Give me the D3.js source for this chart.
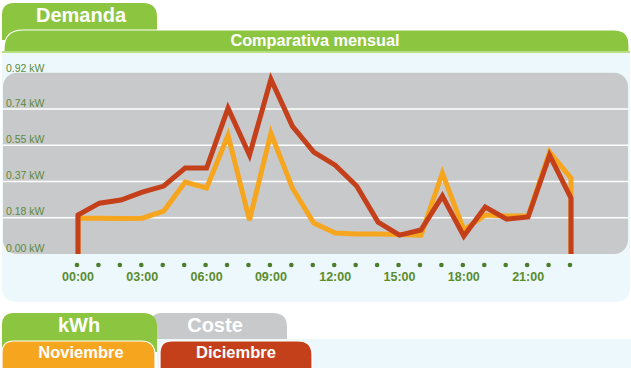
<!DOCTYPE html>
<html>
<head>
<meta charset="utf-8">
<title>Demanda - Comparativa mensual</title>
<style>
  body { margin: 0; background: #fff; }
  svg { display: block; font-family: "Liberation Sans", Arial, sans-serif; }
  .ylab { font-size: 10.5px; fill: #5b8a3a; }
  .xlab { font-size: 12.5px; font-weight: bold; fill: #5a8c2e; }
  .tabtxt { font-weight: bold; fill: #fff; text-anchor: middle; }
</style>
</head>
<body>
<svg width="631" height="368"></svg>
<script src="https://d3js.org/d3.v7.min.js"></script>
<script>
// datos: consumo medio por hora (kW)
const hours = d3.range(0, 24);
const hourLabels = ["00:00", "03:00", "06:00", "09:00", "12:00", "15:00", "18:00", "21:00"];
const yTicks = [0, 0.184, 0.368, 0.552, 0.736, 0.92];

const noviembre = [0.182, 0.182, 0.180, 0.182, 0.218, 0.365, 0.335, 0.603, 0.172, 0.613, 0.335, 0.157,
                   0.106, 0.101, 0.101, 0.099, 0.096, 0.411, 0.122, 0.198, 0.193, 0.193, 0.517, 0.385];
const diciembre = [0.198, 0.258, 0.274, 0.314, 0.345, 0.436, 0.436, 0.740, 0.502, 0.887, 0.649, 0.517,
                   0.451, 0.345, 0.162, 0.096, 0.122, 0.294, 0.091, 0.238, 0.177, 0.188, 0.502, 0.284];

const green = "#8cc540", gray = "#c8c9cb", panel = "#edf8fc";
const orange = "#f6a61e", red = "#c4401b";

const svg = d3.select("svg");

// pestaña con esquinas superiores redondeadas
function tab(x0, y0, x1, y1, rl, rr) {
  return `M${x0},${y1} L${x0},${y0 + rl} Q${x0},${y0} ${x0 + rl},${y0} L${x1 - rr},${y0} Q${x1},${y0} ${x1},${y0 + rr} L${x1},${y1} Z`;
}

// cabecera
svg.append("path").attr("d", tab(2, 3, 157, 40, 12, 14)).attr("fill", green);
svg.append("path").attr("d", tab(4, 30, 629, 52, 19, 15)).attr("fill", green)
  .attr("stroke", "#fff").attr("stroke-width", 1.2);
svg.append("rect").attr("x", 2).attr("y", 51).attr("width", 628).attr("height", 2).attr("fill", "#b9df86");
svg.append("text").attr("class", "tabtxt").attr("x", 81).attr("y", 22).attr("font-size", 20).text("Demanda");
svg.append("text").attr("class", "tabtxt").attr("x", 315).attr("y", 46).attr("font-size", 16.3).text("Comparativa mensual");

// panel
svg.append("path")
  .attr("d", "M2,53 L630,53 L630,287 Q630,302 615,302 L17,302 Q2,302 2,287 Z")
  .attr("fill", panel);

// escalas
const x = d3.scaleLinear().domain([0, 23]).range([78, 571]);
const y = d3.scaleLinear().domain([0, 0.92]).range([254, 72.75]);

// área gris
svg.append("rect").attr("x", 3).attr("y", y(0.92)).attr("width", 625)
  .attr("height", y(0) - y(0.92)).attr("rx", 14).attr("fill", gray);

svg.append("g").selectAll("line")
  .data(yTicks.slice(1, -1))
  .join("line")
  .attr("x1", 3).attr("x2", 628)
  .attr("y1", d => y(d)).attr("y2", d => y(d))
  .attr("stroke", "#fff").attr("stroke-width", 1.3);

svg.append("g").selectAll("text")
  .data(yTicks)
  .join("text")
  .attr("class", "ylab")
  .attr("x", 6)
  .attr("y", d => y(d) - (d === 0.92 ? 1 : 2.5))
  .text(d => d3.format(".2f")(d) + " kW");

// eje x: puntos y etiquetas
svg.append("g").selectAll("circle")
  .data(hours)
  .join("circle")
  .attr("cx", d => x(d) - 1)
  .attr("cy", 265)
  .attr("r", 2.3)
  .attr("fill", "#4b7d2b");

svg.append("g").selectAll("text")
  .data(hourLabels)
  .join("text")
  .attr("class", "xlab")
  .attr("text-anchor", "middle")
  .attr("x", (d, i) => x(i * 3))
  .attr("y", 281)
  .text(d => d);

// líneas
const line = d3.line().x(d => x(d[0])).y(d => y(d[1]));
function pts(vals) {
  return [[0, 0]].concat(vals.map((v, i) => [i, v]), [[23, 0]]);
}
[[noviembre, orange], [diciembre, red]].forEach(([vals, col]) => {
  svg.append("path")
    .attr("d", line(pts(vals)))
    .attr("fill", "none")
    .attr("stroke", col)
    .attr("stroke-width", 5)
    .attr("stroke-linejoin", "miter");
});

// pestañas inferiores
svg.append("path").attr("d", tab(150, 313, 287, 340, 12, 14)).attr("fill", gray);
svg.append("path").attr("d", tab(2, 313, 157, 352, 12, 14)).attr("fill", green);
svg.append("rect").attr("x", 157).attr("y", 339).attr("width", 474).attr("height", 29).attr("fill", panel);
svg.append("path").attr("d", tab(2, 341, 155, 369, 12, 14)).attr("fill", orange)
  .attr("stroke", "#fff").attr("stroke-width", 1.2);
svg.append("path").attr("d", tab(160, 341, 312, 369, 12, 14)).attr("fill", red)
  .attr("stroke", "#fff").attr("stroke-width", 1.2);

svg.append("text").attr("class", "tabtxt").attr("x", 79).attr("y", 332).attr("font-size", 20).text("kWh");
svg.append("text").attr("class", "tabtxt").attr("x", 215).attr("y", 332).attr("font-size", 20).text("Coste");
svg.append("text").attr("class", "tabtxt").attr("x", 81).attr("y", 358).attr("font-size", 16.5).text("Noviembre");
svg.append("text").attr("class", "tabtxt").attr("x", 236).attr("y", 358).attr("font-size", 16.5).text("Diciembre");
</script>
</body>
</html>
